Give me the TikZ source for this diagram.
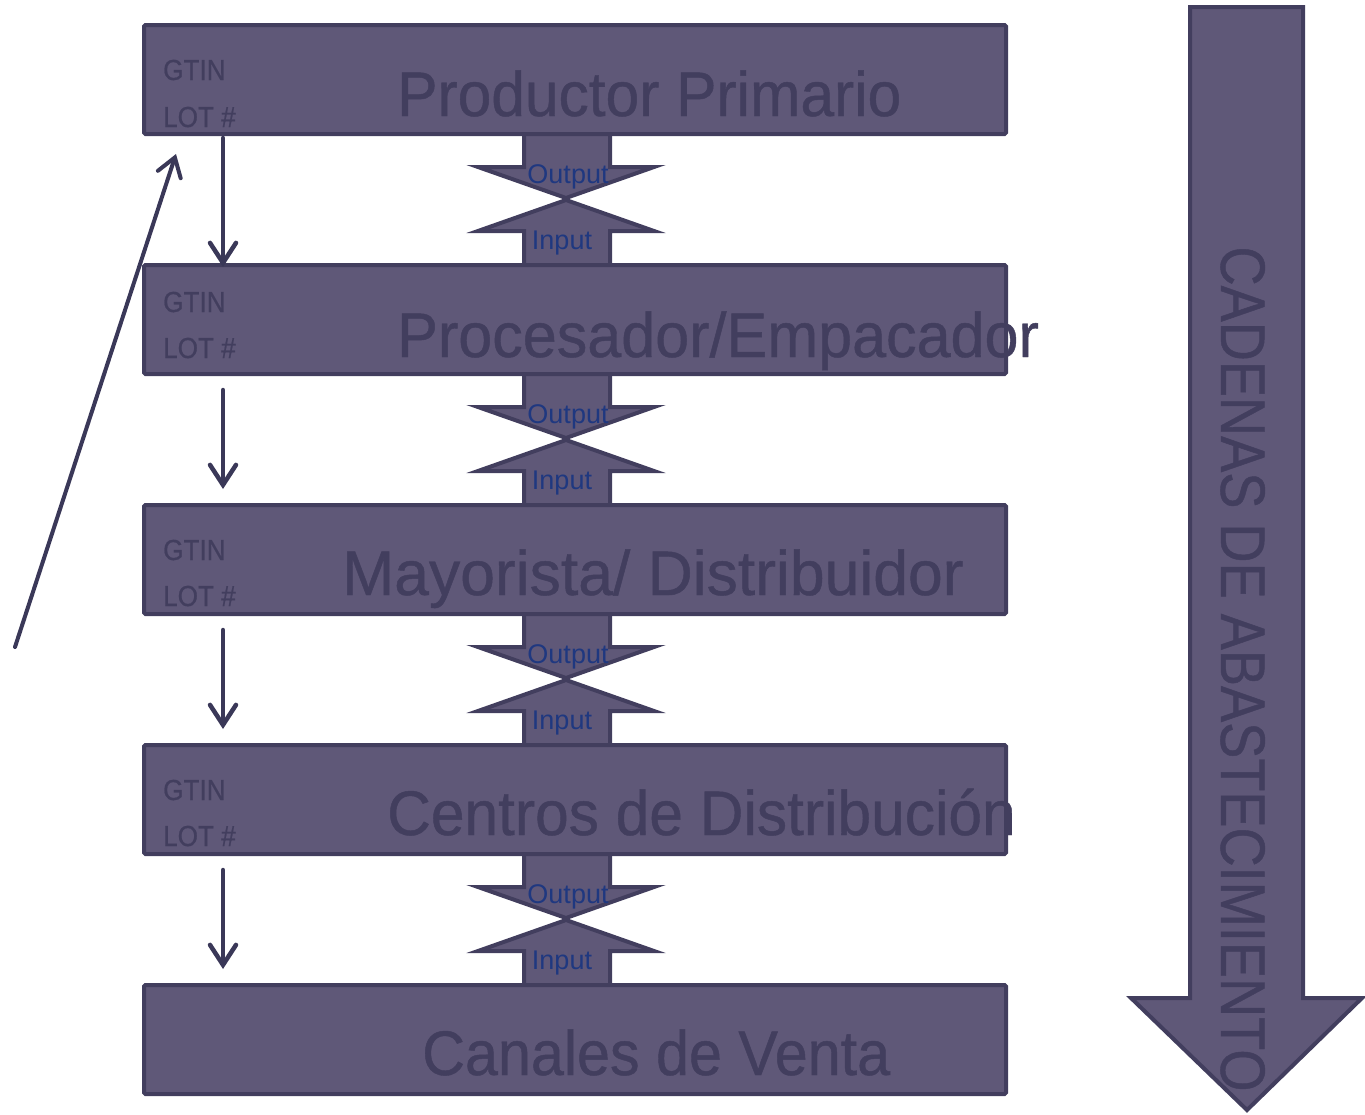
\documentclass[tikz,border=0pt]{standalone}
\usepackage{fontspec}
\setmainfont{Liberation Sans}
\newfontfamily\titlefont[FakeStretch=0.96,FakeBold=0.7]{Liberation Sans}
\newfontfamily\smallfont[FakeStretch=0.9,FakeBold=0.6]{Liberation Sans}
\newfontfamily\vertfont[FakeStretch=0.86,FakeBold=0.7]{Liberation Sans}
\usetikzlibrary{arrows.meta,calc}
\definecolor{boxfill}{RGB}{95,88,120}
\definecolor{boxline}{RGB}{66,62,94}
\definecolor{arrowline}{RGB}{58,56,88}
\definecolor{iotext}{RGB}{31,56,128}
\newcommand{\ioconnect}[2]{%
  \draw[blockarr] ($(#1.south west)+(380,-6)$) -- ($(#1.south west)+(380,33)$) -- ($(#1.south west)+(334,33)$)
     -- ($(#1.south west)+(422,64)$) -- ($(#1.south west)+(510,33)$) -- ($(#1.south west)+(466,33)$)
     -- ($(#1.south west)+(466,-6)$) -- cycle;
  \draw[blockarr] ($(#2.north west)+(380,6)$) -- ($(#2.north west)+(380,-34)$) -- ($(#2.north west)+(334,-34)$)
     -- ($(#2.north west)+(422,-65)$) -- ($(#2.north west)+(510,-34)$) -- ($(#2.north west)+(466,-34)$)
     -- ($(#2.north west)+(466,6)$) -- cycle;
  \node[iolabel] (#1out) at ($(#1.south west)+(424,49)$) {Output};
  \node[iolabel] (#2in) at ($(#2.north west)+(418,-16)$) {Input};
}
\begin{document}
\begin{tikzpicture}[x=1pt,y=-1pt,
  stagebox/.style={draw=boxline,fill=boxfill,line width=4pt,rounded corners=1.5pt,
    minimum width=862pt,minimum height=109pt,inner sep=0pt,outer sep=0pt},
  blockarr/.style={draw=boxline,fill=boxfill,line width=4pt,line join=miter},
  iolabel/.style={anchor=base,text=iotext,inner sep=0pt,font=\fontsize{27}{27}\selectfont},
  stagetitle/.style={anchor=base west,text=boxline,inner sep=0pt,font=\titlefont\fontsize{63}{63}\selectfont},
  codetext/.style={anchor=base west,text=boxline,inner sep=0pt,font=\smallfont\fontsize{29}{29}\selectfont},
  flowarrow/.style={draw=arrowline,line width=4.5pt,line cap=round,
    -{Straight Barb[length=20pt,width=26pt,line cap=round]}},
  chainarrow/.style={draw=boxline,fill=boxfill,line width=4pt,line join=miter}
]
\useasboundingbox (0,0) rectangle (1365,1114);

% big supply-chain arrow
\draw[chainarrow] (1190,7) -- (1303,7) -- (1303,998) -- (1362,998) -- (1247,1110)
  -- (1131,998) -- (1190,998) -- cycle;
\node[anchor=base,rotate=-90,text=boxline,inner sep=0pt,font=\vertfont\fontsize{63}{63}\selectfont]
  (chain) at (1221,669) {CADENAS DE ABASTECIMIENTO};

% positions of stage boxes (placeholders used for the block arrows)
\path (575,79.5) coordinate (c1) (575,319.5) coordinate (c2) (575,559.5) coordinate (c3)
      (575,799.5) coordinate (c4) (575,1039.5) coordinate (c5);
\path (c1) node[stagebox,draw=none,fill=none] (b1) {}
      (c2) node[stagebox,draw=none,fill=none] (b2) {}
      (c3) node[stagebox,draw=none,fill=none] (b3) {}
      (c4) node[stagebox,draw=none,fill=none] (b4) {}
      (c5) node[stagebox,draw=none,fill=none] (b5) {};

% output / input block arrows
\ioconnect{b1}{b2}
\ioconnect{b2}{b3}
\ioconnect{b3}{b4}
\ioconnect{b4}{b5}

% stage boxes on top
\node[stagebox] (s1) at (c1) {};
\node[stagebox] (s2) at (c2) {};
\node[stagebox] (s3) at (c3) {};
\node[stagebox] (s4) at (c4) {};
\node[stagebox] (s5) at (c5) {};

% labels inside
\node[codetext] (g1) at (163,80) {GTIN};
\node[codetext] (l1) at (163,127) {LOT \#};
\node[codetext] (g2) at (163,312) {GTIN};
\node[codetext] (l2) at (163,358) {LOT \#};
\node[codetext] (g3) at (163,560) {GTIN};
\node[codetext] (l3) at (163,606) {LOT \#};
\node[codetext] (g4) at (163,800) {GTIN};
\node[codetext] (l4) at (163,846) {LOT \#};

\node[stagetitle] (t1) at (397,116) {Productor Primario};
\node[stagetitle] (t2) at (397,357) {\scalebox{1.01}[1]{Procesador/Empacador}};
\node[stagetitle] (t3) at (342,595) {\scalebox{1.033}[1]{Mayorista/ Distribuidor}};
\node[stagetitle] (t4) at (387,835) {Centros de Distribución};
\node[stagetitle] (t5) at (422,1075) {\scalebox{0.98}[1]{Canales de Venta}};

% down arrows between stages
\draw[flowarrow] ($(s1.south west)+(79,4)$) -- ($(s2.north west)+(79,2)$);
\draw[flowarrow] ($(s2.south west)+(79,16)$) -- ($(s3.north west)+(79,-16)$);
\draw[flowarrow] ($(s3.south west)+(79,16)$) -- ($(s4.north west)+(79,-16)$);
\draw[flowarrow] ($(s4.south west)+(79,16)$) -- ($(s5.north west)+(79,-16)$);

% long return arrow
\coordinate (retstart) at (15,647);
\draw[draw=arrowline,line width=4pt,line cap=round,
  -{Straight Barb[length=18pt,width=24pt,line cap=round]}] (retstart) -- ($(s1.south west)+(32,20)$);
\end{tikzpicture}
\end{document}
